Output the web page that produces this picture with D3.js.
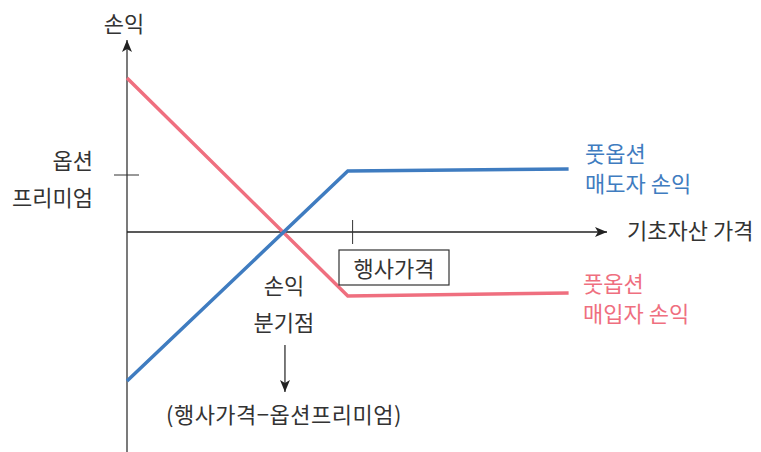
<!DOCTYPE html>
<html>
<head>
<meta charset="utf-8">
<script src="https://d3js.org/d3.v7.min.js"></script>
<style>
  body { margin: 0; background: #fff; }
  text { font-family: "Noto Sans CJK KR", "Noto Sans", sans-serif; fill: #333; }
</style>
</head>
<body>
<svg id="chart"></svg>
<script>
const width = 761, height = 452;

// price points (underlying price) and profit values
const prices = [0, 46, 92];
const buyerProfit = [154, -64, -61];
const sellerProfit = [-149, 61, 63];
const strike = 47;
const premium = 57;
const breakEven = 32.7;

const svg = d3.select("#chart")
    .attr("width", width)
    .attr("height", height);

const xScale = d3.scaleLinear().domain([0, 100]).range([127, 607]);
const yScale = d3.scaleLinear().domain([-220, 192]).range([452, 40]);

const defs = svg.append("defs");
defs.append("marker")
    .attr("id", "arrow")
    .attr("viewBox", "0 0 12 10")
    .attr("refX", 12).attr("refY", 5)
    .attr("markerWidth", 12).attr("markerHeight", 10)
    .attr("markerUnits", "userSpaceOnUse")
    .attr("orient", "auto")
    .append("path")
    .attr("d", "M0,0 L12,5 L0,10 L3,5 Z")
    .attr("fill", "#222");

// axes
svg.append("line")
    .attr("x1", xScale(0)).attr("y1", yScale(-220))
    .attr("x2", xScale(0)).attr("y2", yScale(192))
    .attr("stroke", "#333").attr("stroke-width", 1.3)
    .attr("marker-end", "url(#arrow)");

svg.append("line")
    .attr("x1", xScale(0)).attr("y1", yScale(0))
    .attr("x2", xScale(100)).attr("y2", yScale(0))
    .attr("stroke", "#222").attr("stroke-width", 1.3)
    .attr("marker-end", "url(#arrow)");

// ticks for premium and strike
svg.append("line")
    .attr("x1", xScale(0) - 13).attr("x2", xScale(0) + 12)
    .attr("y1", yScale(premium)).attr("y2", yScale(premium))
    .attr("stroke", "#333").attr("stroke-width", 1);

svg.append("line")
    .attr("x1", xScale(strike)).attr("x2", xScale(strike))
    .attr("y1", yScale(0) - 12).attr("y2", yScale(0) + 12)
    .attr("stroke", "#333").attr("stroke-width", 1);

// profit lines
const buyerData = prices.map((p, i) => ({x: p, y: buyerProfit[i]}));
const sellerData = prices.map((p, i) => ({x: p, y: sellerProfit[i]}));

const line = d3.line()
    .x(d => xScale(d.x))
    .y(d => yScale(d.y));

svg.append("path")
    .datum(buyerData)
    .attr("fill", "none")
    .attr("stroke", "#ef6f7f")
    .attr("stroke-width", 3.5)
    .attr("d", line);

svg.append("path")
    .datum(sellerData)
    .attr("fill", "none")
    .attr("stroke", "#3f7cc0")
    .attr("stroke-width", 3.5)
    .attr("d", line);

// labels
const fs = "22px";

svg.append("text")
    .attr("x", 124).attr("y", 32)
    .attr("text-anchor", "middle")
    .style("font-size", fs)
    .text("손익");

svg.append("text")
    .attr("x", 93).attr("y", 169)
    .attr("text-anchor", "end")
    .style("font-size", fs)
    .text("옵션");
svg.append("text")
    .attr("x", 93).attr("y", 206)
    .attr("text-anchor", "end")
    .style("font-size", fs)
    .text("프리미엄");

svg.append("text")
    .attr("x", 627).attr("y", 239)
    .style("font-size", fs)
    .text("기초자산 가격");

svg.append("text")
    .attr("x", 585).attr("y", 162)
    .style("font-size", fs).style("fill", "#3f7cc0")
    .text("풋옵션");
svg.append("text")
    .attr("x", 585).attr("y", 192)
    .style("font-size", fs).style("fill", "#3f7cc0")
    .text("매도자 손익");

svg.append("text")
    .attr("x", 583).attr("y", 292)
    .style("font-size", fs).style("fill", "#ef6f7f")
    .text("풋옵션");
svg.append("text")
    .attr("x", 583).attr("y", 322)
    .style("font-size", fs).style("fill", "#ef6f7f")
    .text("매입자 손익");

// strike price box
const strikeLabel = svg.append("g");
strikeLabel.append("rect")
    .attr("x", 339).attr("y", 250)
    .attr("width", 110).attr("height", 35)
    .attr("fill", "#fff")
    .attr("stroke", "#333").attr("stroke-width", 1.2);
strikeLabel.append("text")
    .attr("x", 394).attr("y", 277)
    .attr("text-anchor", "middle")
    .style("font-size", fs)
    .text("행사가격");

// break-even annotation
svg.append("text")
    .attr("x", xScale(breakEven)).attr("y", 294)
    .attr("text-anchor", "middle")
    .style("font-size", fs)
    .text("손익");
svg.append("text")
    .attr("x", xScale(breakEven)).attr("y", 331)
    .attr("text-anchor", "middle")
    .style("font-size", fs)
    .text("분기점");

svg.append("line")
    .attr("x1", xScale(breakEven) + 1).attr("x2", xScale(breakEven) + 1)
    .attr("y1", 345).attr("y2", 392)
    .attr("stroke", "#222").attr("stroke-width", 1.2)
    .attr("marker-end", "url(#arrow)");

svg.append("text")
    .attr("x", xScale(breakEven)).attr("y", 423)
    .attr("text-anchor", "middle")
    .style("font-size", fs)
    .style("letter-spacing", "0.5px")
    .text("(행사가격−옵션프리미엄)");
</script>
</body>
</html>
